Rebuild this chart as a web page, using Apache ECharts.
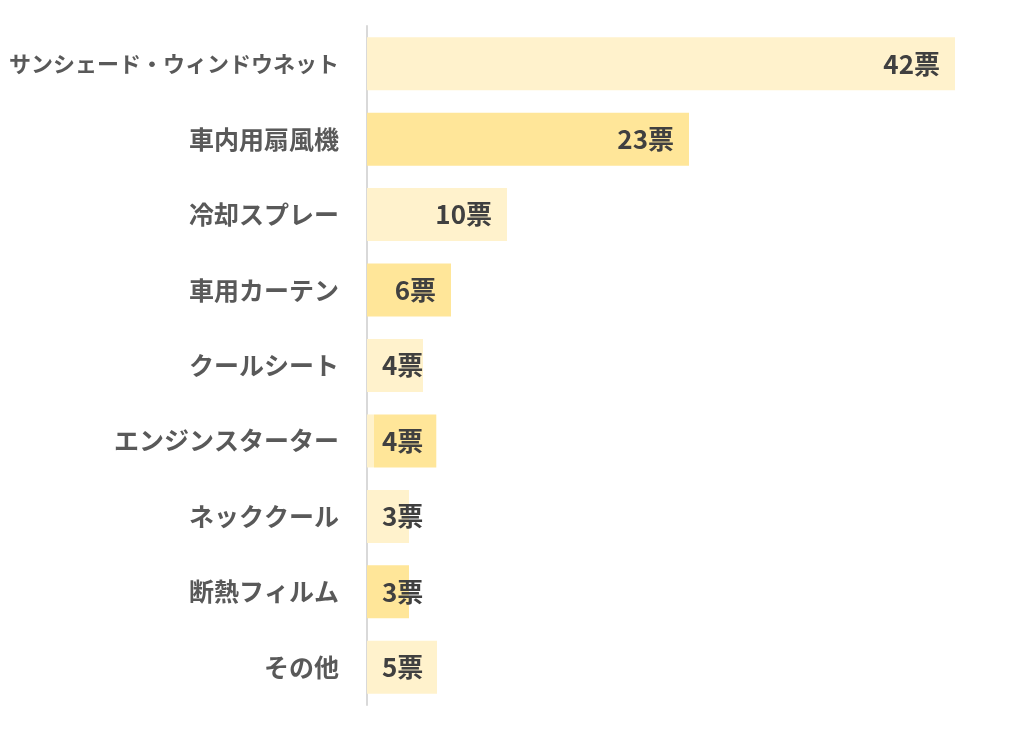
<!DOCTYPE html>
<html><head><meta charset="utf-8">
<script src="https://cdn.jsdelivr.net/npm/echarts@6/dist/echarts.min.js"></script>
<style>html,body{margin:0;padding:0;background:#fff}#c{width:1024px;height:731px}</style>
</head><body><div id="c"></div>
<script>
const categories = ['サンシェード・ウィンドウネット','車内用扇風機','冷却スプレー','車用カーテン','クールシート','エンジンスターター','ネッククール','断熱フィルム','その他'];
const votes = [42, 23, 10, 6, 4, 4, 3, 3, 5];            // label values
const barLengths = [42, 23, 10, 6, 4, 4.45, 3, 3, 5];     // drawn bar lengths
const barOffsets = [0, 0, 0, 0, 0, 0.5, 0, 0, 0];         // light strip before bar
const barShades = ['light','dark','light','dark','light','dark','light','dark','light'];

const LIGHT = '#FFF2CC', DARK = '#FFE699';
const FONT = '"Noto Sans CJK JP", sans-serif';
const mainData = barLengths.map((v, i) => {
  const big = (barOffsets[i] + v) >= 6;
  return {
    value: v,
    itemStyle: { color: barShades[i] === 'dark' ? DARK : LIGHT },
    label: big ? { position: 'insideRight', distance: 15 }
               : { position: 'insideLeft', distance: barOffsets[i] > 0 ? 8 : 15 }
  };
});

const chart = echarts.init(document.getElementById('c'));
chart.setOption({
  animation: false,
  grid: { left: 367, top: 26, width: 630, height: 679 },
  xAxis: { type: 'value', min: 0, max: 45, show: false },
  yAxis: {
    type: 'category', data: categories, inverse: true,
    axisLine: { show: true, lineStyle: { color: '#D9D9D9', width: 2 } },
    axisTick: { show: false },
    axisLabel: {
      margin: 28,
      formatter: v => (v.length > 12 ? '{s|' : '{n|') + v + '}',
      rich: {
        n: { color: '#595959', fontSize: 25, fontWeight: 'bold', fontFamily: FONT },
        s: { color: '#595959', fontSize: 22, fontWeight: 'bold', fontFamily: FONT }
      }
    }
  },
  series: [
    { type: 'bar', stack: 's', data: barOffsets, barWidth: 53,
      itemStyle: { color: LIGHT }, silent: true },
    { type: 'bar', stack: 's', data: mainData, barWidth: 53,
      label: { show: true, color: '#404040', fontSize: 26, fontWeight: 'bold',
        fontFamily: FONT,
        formatter: p => votes[p.dataIndex] + '票' } }
  ]
});
</script></body></html>
